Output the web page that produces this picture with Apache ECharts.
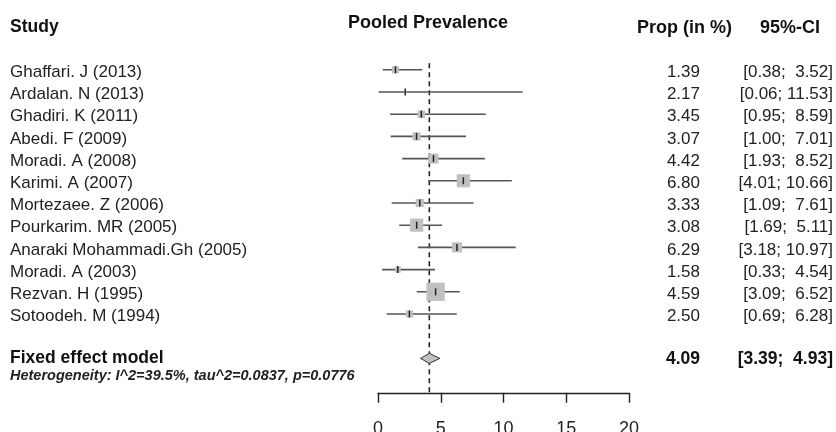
<!DOCTYPE html>
<html><head><meta charset="utf-8">
<script src="https://cdn.jsdelivr.net/npm/echarts@6/dist/echarts.min.js"></script>
<style>html,body{margin:0;padding:0;background:#fff}#c{width:836px;height:432px}</style>
</head><body><div id="c"></div>
<script>
const studies = ["Ghaffari. J (2013)","Ardalan. N (2013)","Ghadiri. K (2011)","Abedi. F (2009)","Moradi. A (2008)","Karimi. A (2007)","Mortezaee. Z (2006)","Pourkarim. MR (2005)","Anaraki Mohammadi.Gh (2005)","Moradi. A (2003)","Rezvan. H (1995)","Sotoodeh. M (1994)"];
const prop  = [1.39,2.17,3.45,3.07,4.42,6.80,3.33,3.08,6.29,1.58,4.59,2.50];
const lower = [0.38,0.06,0.95,1.00,1.93,4.01,1.09,1.69,3.18,0.33,3.09,0.69];
const upper = [3.52,11.53,8.59,7.01,8.52,10.66,7.61,5.11,10.97,4.54,6.52,6.28];
const weight = [4.1,0.5,4.7,5.4,8.4,14.2,5.4,14.2,8.4,3.0,27.3,4.1];
const pooled = {label:"Fixed effect model", est:4.09, lo:3.39, hi:4.93};
const xTicks = [0,5,10,15,20];
const hetText = "Heterogeneity: I^2=39.5%, tau^2=0.0837, p=0.0776";

const F = "'Liberation Sans', Arial, sans-serif";
const fmt = v => v.toFixed(2);
const pad = s => (s.length < 5 ? " " + s : s);
const ciStr = (a,b) => "[" + fmt(a) + "; " + pad(fmt(b)) + "]";

const rows = studies.map((s,i)=>[prop[i], i, lower[i], upper[i], weight[i], i]);
const pooledRow = 13;
const TY = 2.5; // text offset relative to marks

const chart = echarts.init(document.getElementById('c'), null, {renderer:'canvas'});
chart.setOption({
  animation:false,
  backgroundColor:'#fff',
  grid:{left:378, width:251, top:47.6, height:345.2, outerBoundsMode:'none', containLabel:false},
  xAxis:{type:'value', min:xTicks[0], max:xTicks[xTicks.length-1], interval:5, position:'bottom',
    axisLine:{show:true, onZero:false, lineStyle:{color:'#222', width:1.4}},
    axisTick:{show:true, inside:false, length:10, lineStyle:{color:'#222', width:1.4}},
    axisLabel:{margin:27, color:'#222', fontFamily:F, fontSize:18, formatter:v=>String(v)},
    splitLine:{show:false}},
  yAxis:{type:'value', inverse:true, min:-1, max:14.55, show:false, splitLine:{show:false}},
  graphic:[
    {type:'text', x:10, y:27, style:{text:'Study', font:'bold 17.5px '+F, fill:'#111', verticalAlign:'middle'}},
    {type:'text', x:428, y:23, style:{text:'Pooled Prevalence', font:'bold 18px '+F, fill:'#111', align:'center', verticalAlign:'middle'}},
    {type:'text', x:637, y:28, style:{text:'Prop (in %)', font:'bold 18px '+F, fill:'#111', verticalAlign:'middle'}},
    {type:'text', x:820, y:28, style:{text:'95%-CI', font:'bold 18px '+F, fill:'#111', align:'right', verticalAlign:'middle'}}
  ],
  series:[
    {type:'line', data:[[pooled.est,-0.3],[pooled.est,14.55]], symbol:'none', z:1,
     lineStyle:{color:'#222', width:1.6, type:[5,4]}},
    {type:'custom', z:3, clip:false, data:rows,
     encode:{x:[0,2,3], y:1},
     renderItem:(params, api)=>{
       const p = api.coord([api.value(0), api.value(1)]);
       const lo = api.coord([api.value(2), api.value(1)]);
       const hi = api.coord([api.value(3), api.value(1)]);
       const sz = 3.5*Math.sqrt(api.value(4));
       const i = api.value(5);
       const y = p[1];
       return {type:'group', children:[
         {type:'line', shape:{x1:lo[0], y1:y, x2:hi[0], y2:y}, style:{stroke:'#555', lineWidth:1.6}},
         {type:'rect', shape:{x:p[0]-sz/2, y:y-sz/2, width:sz, height:sz}, style:{fill:'#c0c0c0'}},
         {type:'line', shape:{x1:p[0], y1:y-3.5, x2:p[0], y2:y+3.5}, style:{stroke:'#222', lineWidth:1.5}},
         {type:'text', x:10, y:y+TY, style:{text:studies[i], font:'17px '+F, fill:'#222', verticalAlign:'middle'}},
         {type:'text', x:700, y:y+TY, style:{text:fmt(prop[i]), font:'17px '+F, fill:'#222', align:'right', verticalAlign:'middle'}},
         {type:'text', x:833, y:y+TY, style:{text:ciStr(lower[i], upper[i]), font:'17px '+F, fill:'#222', align:'right', verticalAlign:'middle'}}
       ]};
     }},
    {type:'custom', z:4, clip:false, data:[[pooled.est, pooledRow, pooled.lo, pooled.hi]],
     encode:{x:[0,2,3], y:1},
     renderItem:(params, api)=>{
       const p = api.coord([api.value(0), api.value(1)]);
       const lo = api.coord([api.value(2), api.value(1)]);
       const hi = api.coord([api.value(3), api.value(1)]);
       const y = p[1], h = 5;
       return {type:'group', children:[
         {type:'polygon', shape:{points:[[lo[0],y],[p[0],y-h],[hi[0],y],[p[0],y+h]]}, style:{fill:'#c0c0c0', stroke:'#333', lineWidth:1}},
         {type:'text', x:10, y:y, style:{text:pooled.label, font:'bold 17.5px '+F, fill:'#111', verticalAlign:'middle'}},
         {type:'text', x:700, y:y+1, style:{text:fmt(pooled.est), font:'bold 17.5px '+F, fill:'#111', align:'right', verticalAlign:'middle'}},
         {type:'text', x:833, y:y+1, style:{text:ciStr(pooled.lo, pooled.hi), font:'bold 17.5px '+F, fill:'#111', align:'right', verticalAlign:'middle'}},
         {type:'text', x:10, y:y+18, style:{text:hetText, font:'italic bold 14.5px '+F, fill:'#222', verticalAlign:'middle'}}
       ]};
     }}
  ]
});
</script></body></html>
